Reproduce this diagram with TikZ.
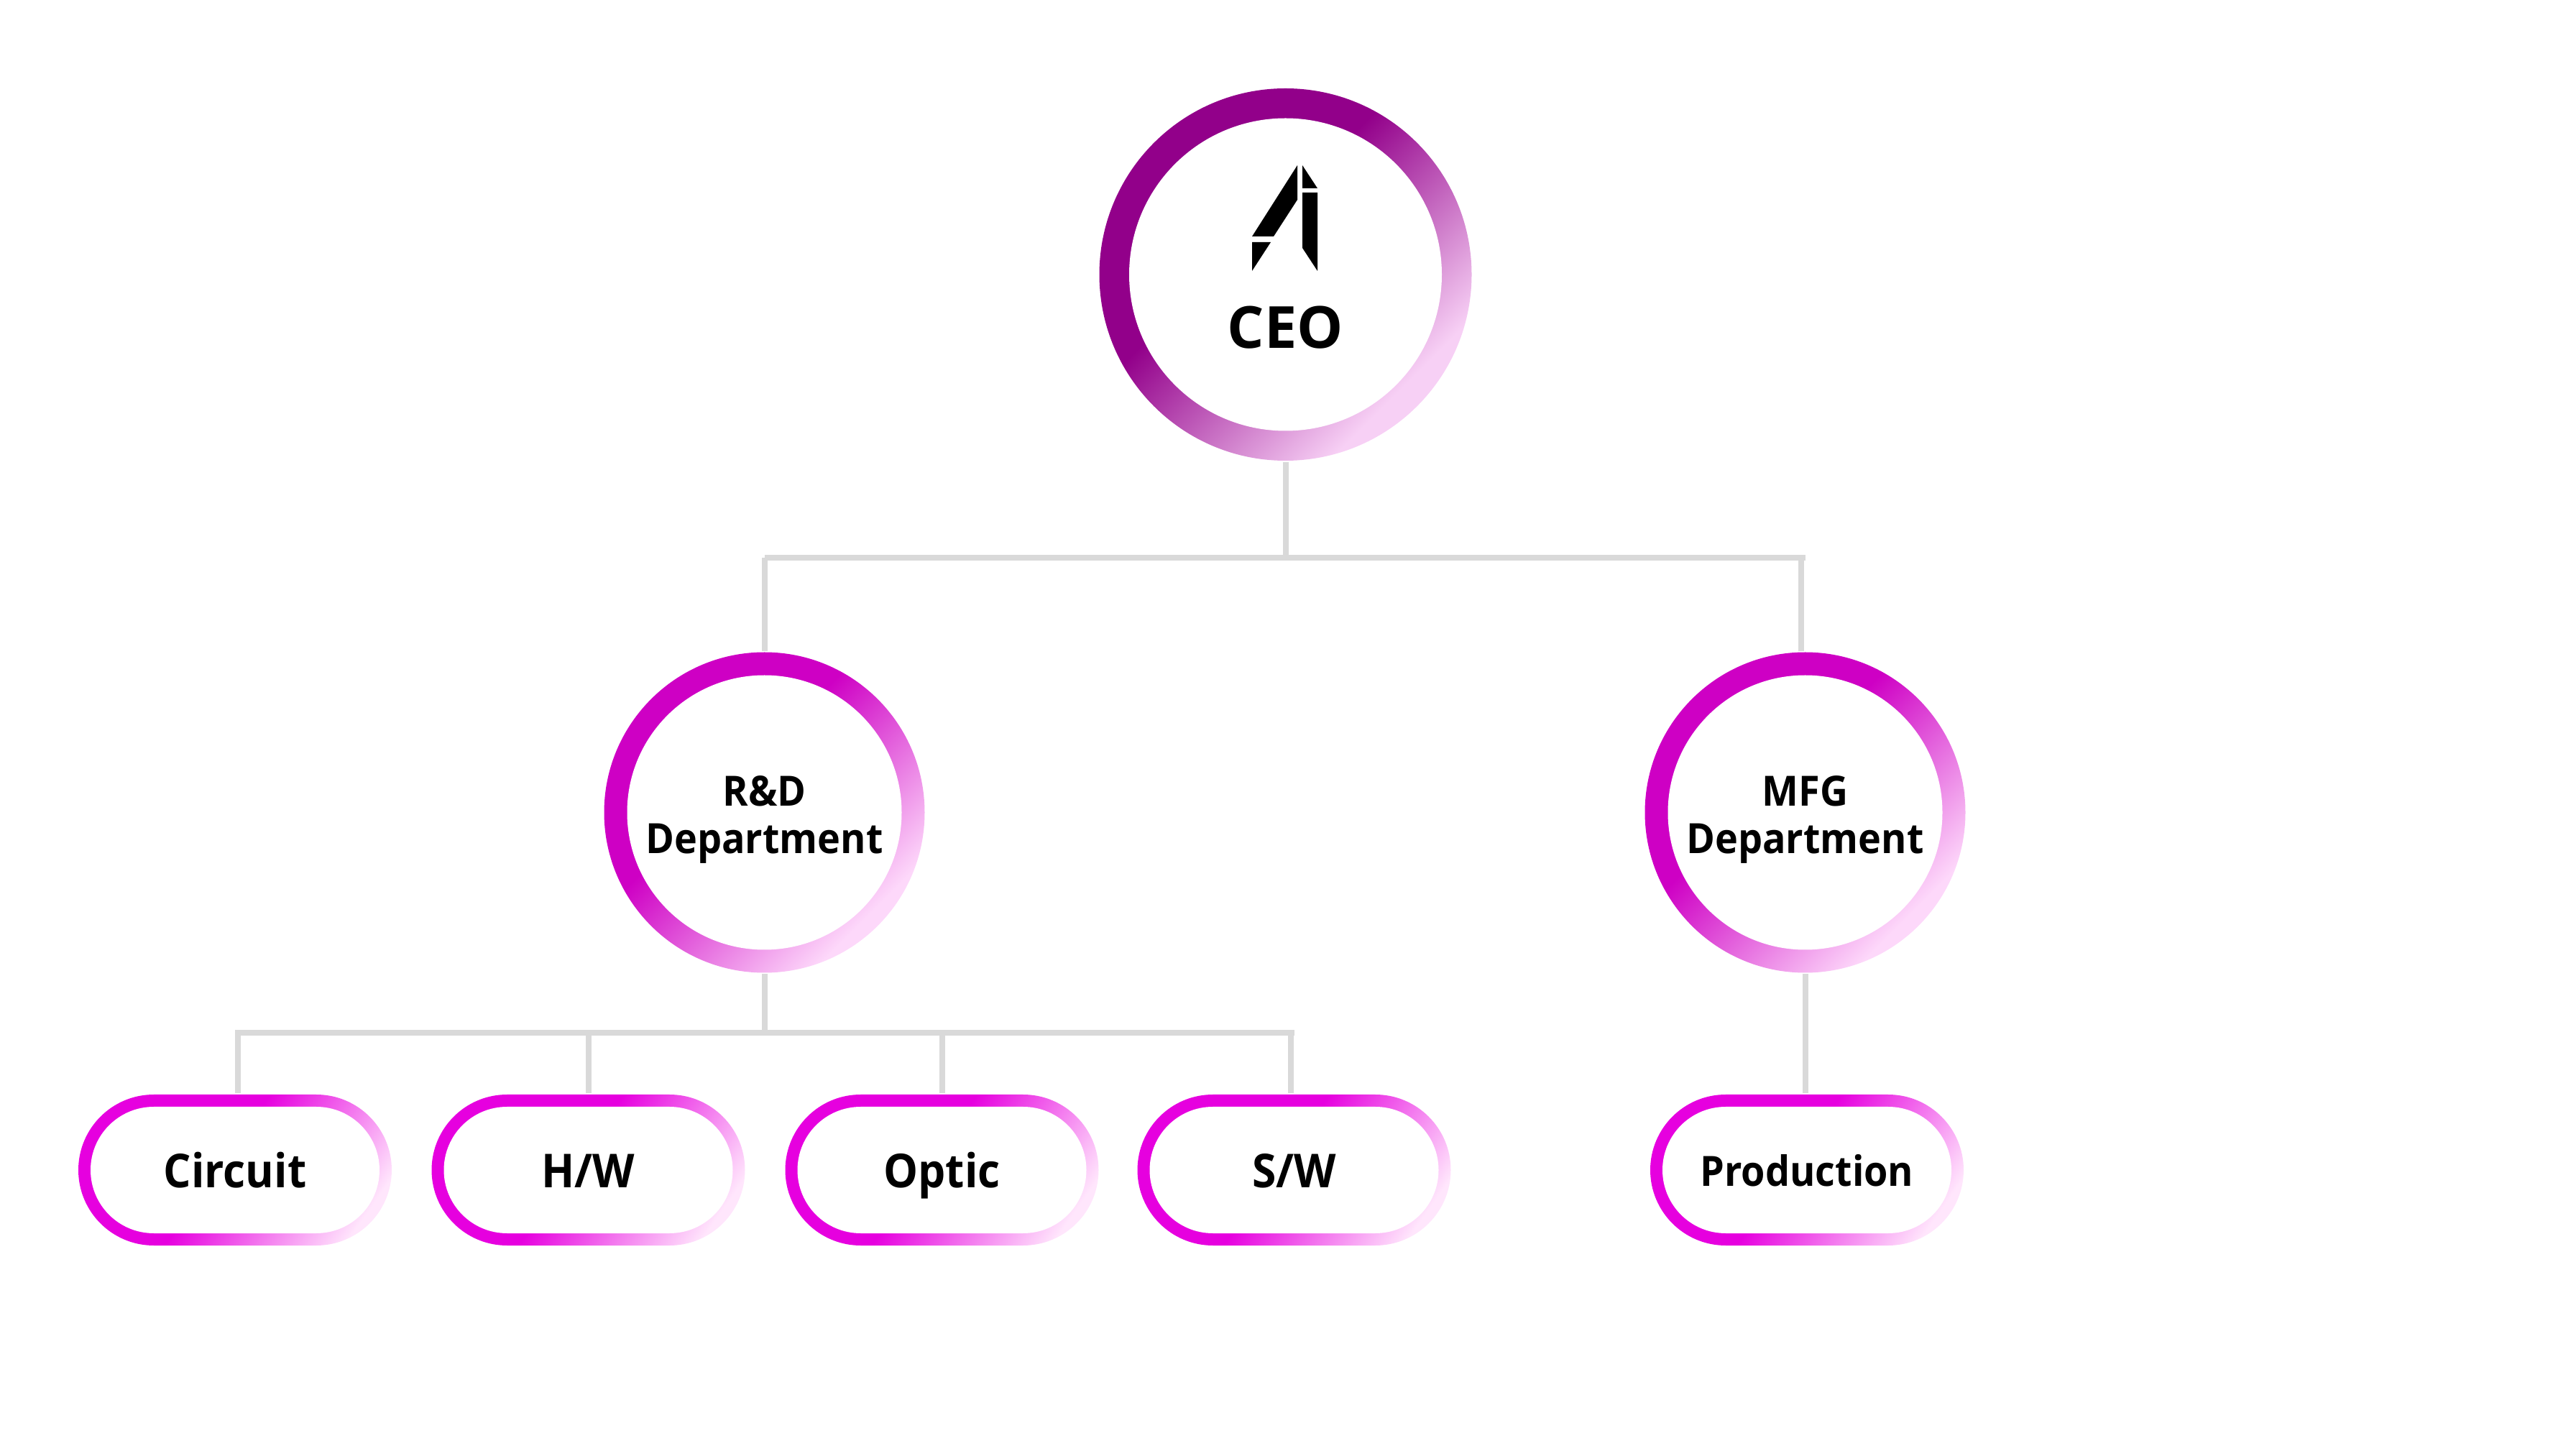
\documentclass[tikz,border=0pt]{standalone}
\usepackage{fontspec}
\setmainfont{Open Sans}[BoldFeatures={FakeStretch=0.93}]
\newfontfamily\ceofont{Open Sans}
\usepackage{tikz}
\usetikzlibrary{positioning, calc, shapes.misc}
\definecolor{LN}{RGB}{217,217,217}
\definecolor{CD}{RGB}{146,0,138}
\definecolor{CL}{RGB}{247,208,245}
\definecolor{RD}{RGB}{206,0,196}
\definecolor{RL}{RGB}{253,216,250}
\definecolor{PD}{RGB}{230,0,223}
\definecolor{PL}{RGB}{255,230,252}
\pgfdeclarehorizontalshading{ceoring}{100bp}{color(0bp)=(CD); color(43bp)=(CD); color(72bp)=(CL); color(100bp)=(CL)}
\pgfdeclarehorizontalshading{deptring}{100bp}{color(0bp)=(RD); color(43bp)=(RD); color(73bp)=(RL); color(100bp)=(RL)}
\pgfdeclarehorizontalshading{teamring}{100bp}{color(0bp)=(PD); color(47bp)=(PD); color(77bp)=(PL); color(100bp)=(PL)}

\begin{document}
\begin{tikzpicture}[
  ring/.style n args={3}{circle, inner sep=0pt, outer sep=0.5pt, minimum size=#2cm,
              shading=#1, shading angle=-45, align=center,
              path picture={\fill[white] (path picture bounding box.center) circle (#3cm);}},
  team/.style={rounded rectangle, inner sep=0pt, outer sep=0.5pt,
              minimum width=4.36cm, minimum height=2.1cm,
              shading=teamring, shading angle=-35,
              path picture={\fill[white, rounded corners=0.88cm]
                ([shift={(0.17,0.17)}]path picture bounding box.south west) rectangle
                ([shift={(-0.17,-0.17)}]path picture bounding box.north east);}},
  wire/.style={draw=LN, line width=0.08cm},
  dept/.style={font=\fontsize{16.5}{18.9}\selectfont\bfseries, text height=1.14cm, text depth=0pt},
  lab/.style={font=\fontsize{18.5}{22}\selectfont\bfseries, text height=0.5cm, text depth=0pt},
  prodlab/.style={font=\fontsize{16.5}{18.9}\selectfont\bfseries, text height=0.44cm, text depth=0pt}
]
\useasboundingbox (0,0) rectangle (35.84,20.11);

\node[ring={ceoring}{5.18}{2.175}] (ceo) at (17.885,16.29) {};
\node[ring={deptring}{4.46}{1.91}, dept] (rd)  at (10.635,8.805) {R\&D\\Department};
\node[ring={deptring}{4.46}{1.91}, dept] (mfg) at (25.115,8.805) {MFG\\Department};

\node[team, lab] (circuit) at (3.27,3.83)  {Circuit};
\node[team, lab] (hw)      at (8.185,3.83) {H/W};
\node[team, lab] (optic)   at (13.105,3.83)  {Optic};
\node[team, lab] (sw)      at (18.005,3.83)    {S/W};
\node[team, prodlab] (prod) at (25.14,3.83) {Production};

% logo
\fill (18.05,17.81) -- (18.05,17.33) -- (17.72,16.82) -- (17.42,16.82) -- cycle;
\fill (17.42,16.74) -- (17.68,16.74) -- (17.42,16.34) -- cycle;
\fill (18.12,17.81) -- (18.33,17.49) -- (18.12,17.49) -- cycle;
\fill (18.12,17.43) -- (18.33,17.43) -- (18.33,16.34) -- (18.12,16.66) -- cycle;
\node[font=\fontsize{23}{26}\selectfont\ceofont\bfseries] (ceotxt) at (17.885,15.55) {CEO};

\coordinate (topbus) at (17.885,12.35);
\coordinate (lowbus) at (10.635,5.74);

\draw[wire] (ceo.south) -- (topbus);
\draw[wire] (rd.north |- topbus) -- (mfg.north |- topbus);
\draw[wire] (rd.north) -- (rd.north |- topbus);
\draw[wire] ([xshift=-0.055cm]mfg.north) -- ([xshift=-0.055cm]mfg.north |- topbus);
\draw[wire] (rd.south) -- (lowbus);
\draw[wire] (circuit.north |- lowbus) -- (sw.north |- lowbus);
\draw[wire] ([xshift=0.04cm]circuit.north) -- ([xshift=0.04cm]circuit.north |- lowbus);
\draw[wire] (hw.north) -- (hw.north |- lowbus);
\draw[wire] (optic.north) -- (optic.north |- lowbus);
\draw[wire] ([xshift=-0.05cm]sw.north) -- ([xshift=-0.05cm]sw.north |- lowbus);
\draw[wire] (mfg.south) -- (mfg.south |- prod.north);
\end{tikzpicture}
\end{document}
